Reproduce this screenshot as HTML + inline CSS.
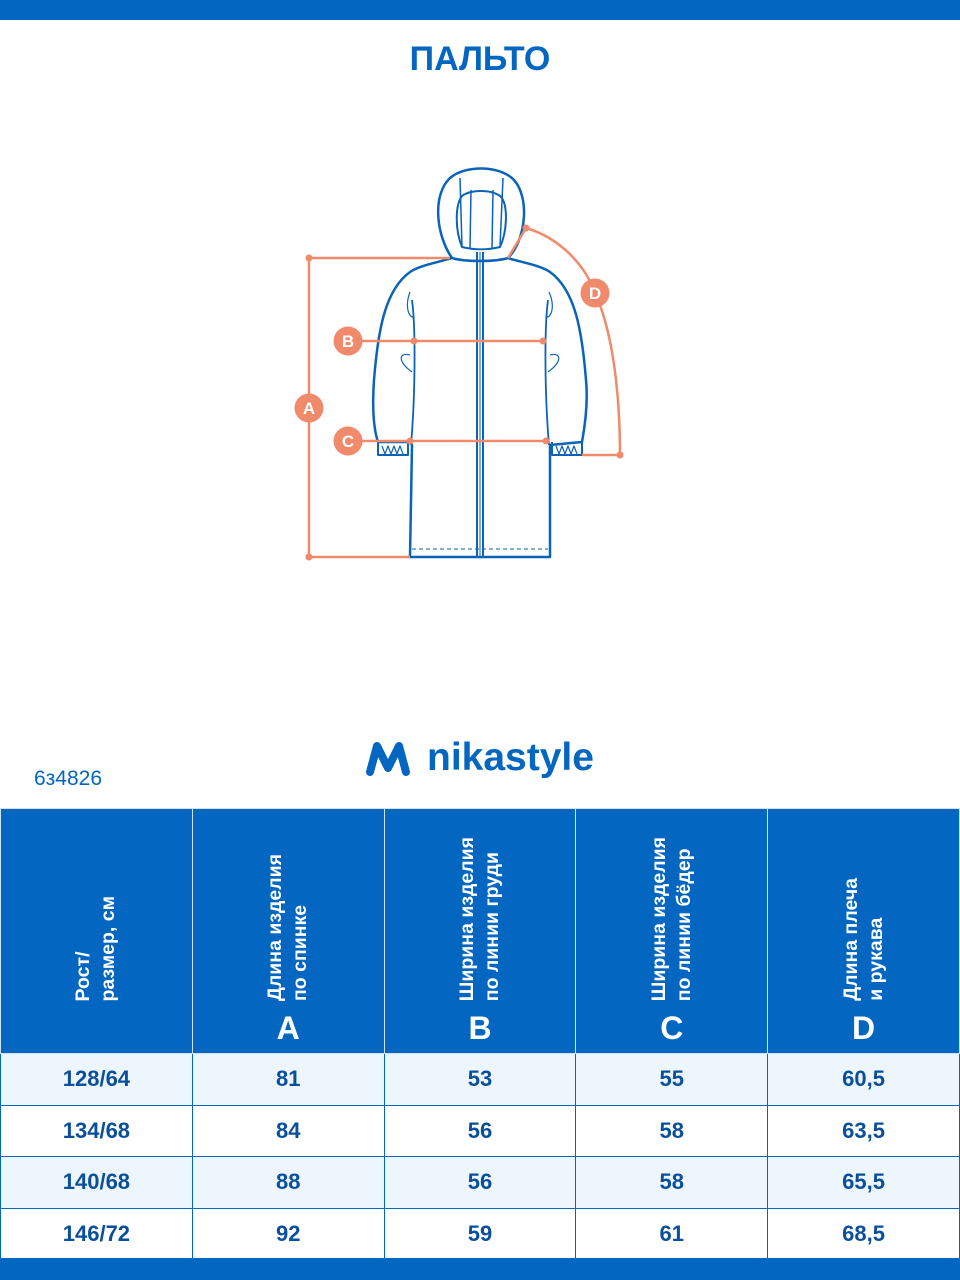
<!DOCTYPE html>
<html><head><meta charset="utf-8"><style>
*{margin:0;padding:0;box-sizing:border-box}
body{width:960px;height:1280px;background:#fff;position:relative;font-family:"Liberation Sans",sans-serif;overflow:hidden}
.bar{position:absolute;left:0;width:960px;background:#0366c0}
h1{position:absolute;top:40px;width:960px;text-align:center;color:#0366c0;font-size:34px;font-weight:bold}
.code{position:absolute;left:34px;top:767px;color:#0366c0;font-size:21px}
.logo{position:absolute;left:365px;top:736px;color:#0366c0;font-size:39px;font-weight:bold;display:flex;align-items:center;gap:16px}
table{position:absolute;left:0;top:808px;width:960px;border-collapse:collapse;table-layout:fixed}
td,th{border:1.5px solid #0366c0;text-align:center;color:#0a4f9c;font-weight:bold;font-size:22px}
th{background:#0366c0;color:#fff;height:245px;border-color:#cfe3f5;position:relative}
td{height:51.5px}
tr.l td{background:#eef6fd}
.v{position:absolute;left:0;width:100%;bottom:52px;display:flex;justify-content:center}
.v div{writing-mode:vertical-rl;transform:rotate(180deg);white-space:nowrap;font-size:19.5px;line-height:25px;text-align:left}
.L{position:absolute;bottom:6px;left:0;width:100%;font-size:32px}
</style></head><body>
<div class="bar" style="top:0;height:20px"></div>
<div class="bar" style="top:1258px;height:22px"></div>
<h1>ПАЛЬТО</h1>
<svg style="position:absolute;left:0;top:0" width="960" height="700">
<g fill="none" stroke="#0a63b8" stroke-width="2.5" stroke-linejoin="round">
<path d="M452,258 C436,235 432,195 450,178 C465,165 500,165 514,180 C530,198 526,240 508,258"/>
<path d="M462,247 C455,230 455,205 462,196 C470,189 495,189 502,198 C508,208 507,232 500,247 C488,250 474,250 462,247Z" stroke-width="2"/>
<path d="M462,247 L460,178 M500,247 L503,178 M471,190 L470,248 M493,190 L492,248" stroke-width="1.5"/>
<path d="M452,258 C440,262 420,265 410,272 C385,290 378,330 374,380 C372,410 374,430 378,442 L410,442 L412,445 L410,557 L550,557 L550,445 L582,442 C586,420 588,400 586,380 C582,330 575,290 550,272 C540,265 520,262 508,258 C495,262 465,262 452,258Z"/>
<path d="M378,442 L378,455 L408,455 L408,442 M552,442 L552,455 L582,455 L582,442" stroke-width="2"/>
<path d="M382,446 l3,8 3,-8 3,8 3,-8 3,8 3,-8 3,8 M556,446 l3,8 3,-8 3,8 3,-8 3,8 3,-8 3,8" stroke-width="1.2"/>
<path d="M412,300 C416,330 415,400 411,445 M548,300 C544,330 545,400 549,445" stroke-width="1.8"/>
<path d="M410,292 C405,305 408,318 414,317 M549,292 C555,305 552,318 546,317 M410,355 C398,352 398,362 412,372 M550,355 C562,352 562,362 548,372" stroke-width="1.2"/>
<path d="M477,252 L477,557 M483,252 L483,557" stroke-width="2"/>
<path d="M480,252 L480,557" stroke-width="1"/>
<path d="M412,549 L548,549" stroke-width="1" stroke-dasharray="4,3"/>
</g>
<g stroke="#f08a6a" stroke-width="2.5" fill="none">
<path d="M450,258 L309,258 L309,557 L410,557"/>
<path d="M348,341 L543,341 M348,441 L546,441"/>
<path d="M508,258 L526,228 C560,238 585,265 595,293 C612,330 620,390 620,455 L582,455"/>
</g>
<g fill="#f08a6a">
<circle cx="309" cy="258" r="3.5"/><circle cx="309" cy="557" r="3.5"/><circle cx="414" cy="341" r="3.5"/><circle cx="543" cy="341" r="3.5"/><circle cx="410" cy="441" r="3.5"/><circle cx="546" cy="441" r="3.5"/><circle cx="526" cy="228" r="3.5"/><circle cx="620" cy="455" r="3.5"/>
<circle cx="309" cy="408" r="14.5"/><circle cx="348" cy="341" r="14.5"/><circle cx="348" cy="441" r="14.5"/><circle cx="595" cy="293" r="14.5"/>
</g>
<g fill="#fff" font-family="Liberation Sans" font-weight="bold" font-size="17" text-anchor="middle">
<text x="309" y="414">A</text><text x="348" y="347">B</text><text x="348" y="447">C</text><text x="595" y="299">D</text>
</g>
</svg>
<div class="logo"><svg width="46" height="38" viewBox="0 0 46 38"><path d="M5,33 L12,7 L23,29 L34,7 L41,33" fill="none" stroke="#0366c0" stroke-width="8" stroke-linejoin="round" stroke-linecap="round"/></svg><span>nikastyle</span></div>
<div class="code">6з4826</div>
<table>
<tr><th><div class="v"><div>Рост/<br>размер, см</div></div></th>
<th><div class="v"><div>Длина изделия<br>по спинке</div></div><div class="L">A</div></th>
<th><div class="v"><div>Ширина изделия<br>по линии груди</div></div><div class="L">B</div></th>
<th><div class="v"><div>Ширина изделия<br>по линии бёдер</div></div><div class="L">C</div></th>
<th><div class="v"><div>Длина плеча<br>и рукава</div></div><div class="L">D</div></th></tr>
<tr class="l"><td>128/64</td><td>81</td><td>53</td><td>55</td><td>60,5</td></tr>
<tr><td>134/68</td><td>84</td><td>56</td><td>58</td><td>63,5</td></tr>
<tr class="l"><td>140/68</td><td>88</td><td>56</td><td>58</td><td>65,5</td></tr>
<tr><td>146/72</td><td>92</td><td>59</td><td>61</td><td>68,5</td></tr>
</table>
</body></html>
